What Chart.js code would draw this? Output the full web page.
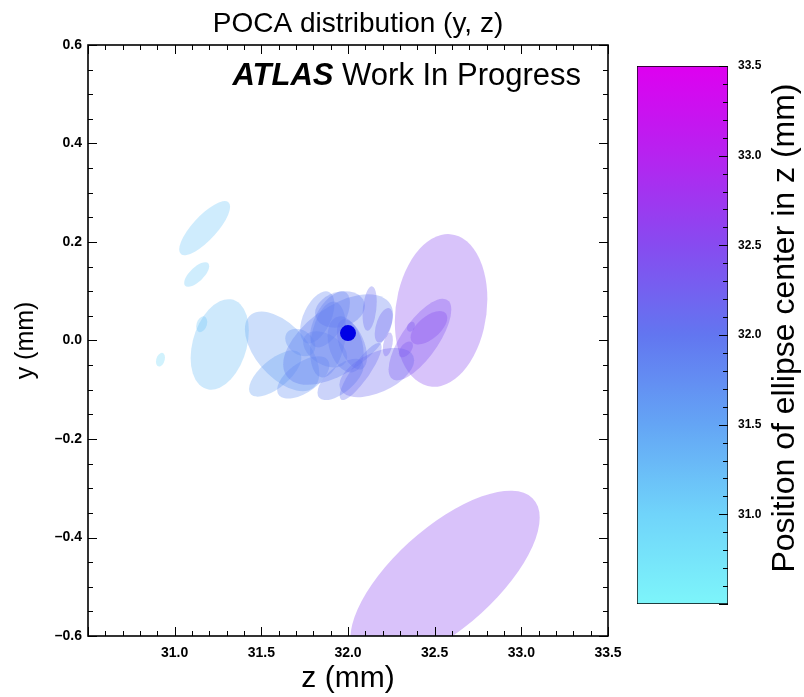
<!DOCTYPE html>
<html>
<head>
<meta charset="utf-8">
<script src="https://cdn.jsdelivr.net/npm/chart.js@4.4.0/dist/chart.umd.min.js"></script>
<style>
  html, body { margin: 0; padding: 0; background: #fff; }
  #wrap { position: relative; width: 804px; height: 697px; }
  #mainBox { position: absolute; left: 0; top: 0; width: 804px; height: 697px; }
  #barBox { position: absolute; left: 610px; top: 0; width: 194px; height: 697px; }
</style>
</head>
<body>
<div id="wrap">
  <div id="mainBox"><canvas id="pocaChart"></canvas></div>
  <div id="barBox"><canvas id="colorBar"></canvas></div>
</div>
<script>
// ellipse centres (z, y in mm), half extents along z / y and correlation
const ellZ   = [32.560, 32.537, 32.415, 32.467, 31.620, 31.580, 31.742, 31.823, 31.943, 31.885,
                31.986, 32.125, 32.206, 32.073, 32.166, 31.957, 32.230, 32.334, 32.363, 31.725,
                31.896, 32.023, 31.868, 31.954,
                31.173, 31.127, 31.260, 31.156, 30.918];
const ellY   = [-0.482, 0.061, 0.002, 0.026, -0.022, -0.067, -0.075, 0.047, 0.002, 0.002,
                -0.008, 0.065, 0.031, -0.063, -0.065, -0.079, -0.008, -0.018, 0.028, -0.004,
                0.043, -0.008, -0.018, 0.063,
                0.228, 0.134, -0.008, 0.033, -0.039];
const ellSigZ = [0.546, 0.267, 0.181, 0.106, 0.215, 0.151, 0.151, 0.099, 0.317, 0.104,
                 0.104, 0.041, 0.052, 0.121, 0.216, 0.133, 0.029, 0.041, 0.023, 0.087,
                 0.115, 0.087, 0.127, 0.144,
                 0.147, 0.072, 0.168, 0.032, 0.026];
const ellSigY = [0.177, 0.155, 0.083, 0.034, 0.081, 0.047, 0.043, 0.053, 0.092, 0.077,
                 0.057, 0.045, 0.035, 0.058, 0.050, 0.042, 0.024, 0.016, 0.010, 0.028,
                 0.057, 0.051, 0.037, 0.037,
                 0.055, 0.025, 0.092, 0.016, 0.014];
const ellRho = [0.69, 0.15, 0.73, 0.59, -0.55, 0.67, 0.58, 0.50, 0.55, 0.30,
                -0.30, 0.30, 0.50, 0.86, 0.50, 0.64, 0.40, 0.50, 0.30, -0.30,
                0.60, -0.50, -0.40, 0.20,
                0.79, 0.68, 0.30, 0.30, 0.30];

// the reconstructed vertex (dark dot)
const dotZ = [32.0];
const dotY = [0.015];

// tick labels
const zTicks  = [31.0, 31.5, 32.0, 32.5, 33.0, 33.5];
const yTicks  = [-0.6, -0.4, -0.2, 0.0, 0.2, 0.4, 0.6];
const cbTicks = [31.0, 31.5, 32.0, 32.5, 33.0, 33.5];
const cbRange = [30.5, 33.5];

// colour map (cyan -> blue -> magenta)
const cmapStops  = [30.5, 31.0, 31.5, 32.0, 32.5, 33.0, 33.5];
const cmapColors = [[125, 245, 250], [112, 212, 250], [100, 165, 245], [98, 118, 240],
                    [135, 75, 240], [182, 35, 240], [222, 0, 240]];

const FONT = "'Liberation Sans', Arial, sans-serif";

function cmap(v, alpha) {
    let i = 0;
    while (i < cmapStops.length - 2 && v > cmapStops[i + 1]) i++;
    let t = (v - cmapStops[i]) / (cmapStops[i + 1] - cmapStops[i]);
    t = Math.max(0, Math.min(1, t));
    const a = cmapColors[i], b = cmapColors[i + 1];
    const c = a.map((x, k) => Math.round(x + (b[k] - x) * t));
    return 'rgba(' + c[0] + ',' + c[1] + ',' + c[2] + ',' + alpha + ')';
}

// draw covariance ellipses through the chart scales
const ellipsePlugin = {
    id: 'ellipses',
    beforeDatasetsDraw(chart) {
        const { ctx, chartArea: a, scales: { x, y } } = chart;
        ctx.save();
        ctx.beginPath();
        ctx.rect(a.left, a.top, a.right - a.left, a.bottom - a.top);
        ctx.clip();
        ellZ.forEach((z, i) => {
            const cx = x.getPixelForValue(z);
            const cy = y.getPixelForValue(ellY[i]);
            const ax = x.getPixelForValue(z + ellSigZ[i]) - cx;
            const by = y.getPixelForValue(ellY[i] + ellSigY[i]) - cy;
            const r = ellRho[i];
            ctx.save();
            ctx.transform(ax, by * r, 0, by * Math.sqrt(1 - r * r), cx, cy);
            ctx.beginPath();
            ctx.arc(0, 0, 1, 0, Math.PI * 2);
            ctx.restore();
            ctx.fillStyle = cmap(z, 0.33);
            ctx.fill();
        });
        ctx.restore();
    }
};

// frame with inward ticks on all four sides
const frameTicks = {
    id: 'frameTicks',
    afterDraw(chart) {
        const { ctx, chartArea: a, scales: { x, y } } = chart;
        ctx.save();
        ctx.strokeStyle = '#000';
        ctx.lineWidth = 1;
        ctx.beginPath();
        for (let i = 0; i <= 30; i++) {
            const px = Math.round(x.getPixelForValue(x.min + i * 0.1)) + 0.5;
            const len = i % 5 === 0 ? 9 : 5;
            ctx.moveTo(px, a.bottom); ctx.lineTo(px, a.bottom - len);
            ctx.moveTo(px, a.top); ctx.lineTo(px, a.top + len);
        }
        for (let i = 0; i <= 24; i++) {
            const py = Math.round(y.getPixelForValue(y.min + i * 0.05)) + 0.5;
            const len = i % 4 === 0 ? 9 : 5;
            ctx.moveTo(a.left, py); ctx.lineTo(a.left + len, py);
            ctx.moveTo(a.right, py); ctx.lineTo(a.right - len, py);
        }
        ctx.stroke();
        ctx.lineWidth = 1.6;
        ctx.strokeRect(a.left, a.top, a.right - a.left, a.bottom - a.top);

        // title and label
        ctx.fillStyle = '#000';
        ctx.textBaseline = 'alphabetic';
        ctx.textAlign = 'center';
        ctx.font = '28px ' + FONT;
        ctx.fillText('POCA distribution (y, z)', (a.left + a.right) / 2 + 10, 32);

        ctx.textAlign = 'left';
        ctx.font = 'italic bold 31px ' + FONT;
        const w1 = ctx.measureText('ATLAS').width;
        ctx.font = '31px ' + FONT;
        const w2 = ctx.measureText(' Work In Progress').width;
        const x0 = a.right - 27 - w1 - w2;
        ctx.font = 'italic bold 31px ' + FONT;
        ctx.fillText('ATLAS', x0, 85);
        ctx.font = '31px ' + FONT;
        ctx.fillText(' Work In Progress', x0 + w1, 85);
        ctx.restore();
    }
};

const tickFont = { family: FONT, weight: 'bold', size: 14 };

new Chart(document.getElementById('pocaChart'), {
    type: 'scatter',
    data: {
        datasets: [{
            data: dotZ.map((z, i) => ({ x: z, y: dotY[i] })),
            pointRadius: 8,
            pointBackgroundColor: '#0000e6',
            pointBorderWidth: 0
        }]
    },
    options: {
        responsive: true,
        maintainAspectRatio: false,
        animation: false,
        layout: { padding: { top: 45, right: 196, left: 0, bottom: 0 } },
        plugins: { legend: { display: false }, tooltip: { enabled: false } },
        scales: {
            x: {
                type: 'linear', min: 30.5, max: 33.5,
                grid: { display: false, drawTicks: false }, border: { display: false },
                afterBuildTicks: s => { s.ticks = zTicks.map(v => ({ value: v })); },
                afterFit: s => { s.height = 61; },
                ticks: { font: tickFont, color: '#000', padding: 9, maxRotation: 0, autoSkip: false,
                         callback: v => v.toFixed(1) },
                title: { display: true, text: 'z (mm)', color: '#000',
                         font: { family: FONT, size: 30 }, padding: { top: 0, bottom: 0 } }
            },
            y: {
                type: 'linear', min: -0.6, max: 0.6,
                grid: { display: false, drawTicks: false }, border: { display: false },
                afterBuildTicks: s => { s.ticks = yTicks.map(v => ({ value: v })); },
                afterFit: s => { s.width = 88; },
                ticks: { font: tickFont, color: '#000', padding: 6, autoSkip: false,
                         callback: v => (v < 0 ? '\u2013' + Math.abs(v).toFixed(1) : v.toFixed(1)) },
                title: { display: true, text: 'y (mm)', color: '#000',
                         font: { family: FONT, size: 25 }, padding: { top: 11, bottom: 0 } }
            }
        }
    },
    plugins: [ellipsePlugin, frameTicks]
});

// colour bar ticks and title
const barDecor = {
    id: 'barDecor',
    afterDraw(chart) {
        const { ctx, chartArea: a, scales: { y } } = chart;
        ctx.save();
        ctx.strokeStyle = '#000';
        ctx.lineWidth = 1;
        ctx.beginPath();
        for (let i = 0; i <= 30; i++) {
            const py = Math.round(y.getPixelForValue(y.min + i * 0.1)) + 0.5;
            const len = i % 5 === 0 ? 9 : 5;
            ctx.moveTo(a.right, py); ctx.lineTo(a.right - len, py);
        }
        ctx.stroke();
        ctx.fillStyle = '#000';
        ctx.font = '32px ' + FONT;
        ctx.textAlign = 'center';
        ctx.textBaseline = 'middle';
        ctx.translate(175, 328);
        ctx.rotate(-Math.PI / 2);
        ctx.fillText('Position of ellipse center in z (mm)', 0, 0);
        ctx.restore();
    }
};

new Chart(document.getElementById('colorBar'), {
    type: 'bar',
    data: {
        labels: [''],
        datasets: [{
            data: [cbRange],
            backgroundColor: c => {
                const ch = c.chart;
                if (!ch.chartArea) return null;
                const ys = ch.scales.y;
                const g = ch.ctx.createLinearGradient(0, ys.getPixelForValue(ys.min), 0, ys.getPixelForValue(ys.max));
                cmapStops.forEach(v => g.addColorStop((v - ys.min) / (ys.max - ys.min), cmap(v, 1)));
                return g;
            },
            borderColor: '#000',
            borderWidth: 1,
            borderSkipped: false,
            barPercentage: 1,
            categoryPercentage: 1
        }]
    },
    options: {
        responsive: true,
        maintainAspectRatio: false,
        animation: false,
        layout: { padding: { left: 27, top: 66, bottom: 93, right: 0 } },
        plugins: { legend: { display: false }, tooltip: { enabled: false } },
        scales: {
            x: { display: false },
            y: {
                position: 'right', min: cbRange[0], max: cbRange[1],
                grid: { display: false, drawTicks: false }, border: { display: false },
                afterBuildTicks: s => { s.ticks = cbTicks.map(v => ({ value: v })); },
                afterFit: s => { s.width = 76; },
                ticks: { font: { family: FONT, weight: 'bold', size: 12 }, color: '#000', padding: 10,
                         callback: v => v.toFixed(1) }
            }
        }
    },
    plugins: [barDecor]
});
</script>
</body>
</html>
